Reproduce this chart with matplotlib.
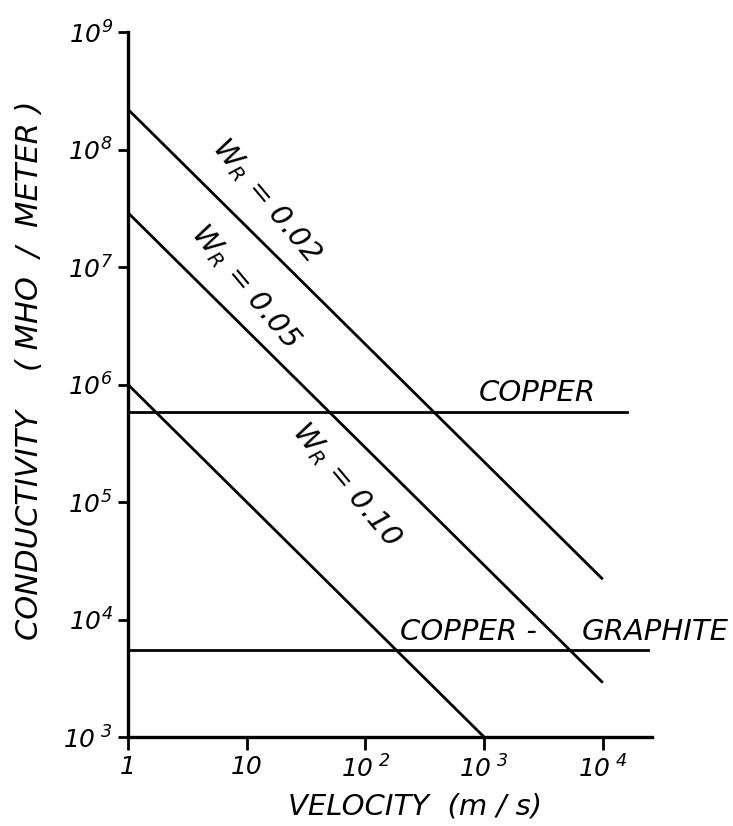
import numpy as np
import matplotlib.pyplot as plt
from matplotlib import rcParams

rcParams["font.family"]="DejaVu Sans"
rcParams["font.style"]="oblique"
rcParams["mathtext.default"]="it"
rcParams["axes.spines.top"]=False
rcParams["axes.spines.right"]=False

# data (velocity m/s, conductivity mho/m)
wr_labels=["0.02","0.05","0.10"]
wr_x0=[1,1,1]; wr_x1=[1e4,1e4,1e3]
wr_y0=[2.2e8,2.9e7,1.0e6]            # conductivity at v=1, slope -1
mat_sigma=[5.8e5,5.5e3]
mat_xend=[1.6e4,2.4e4]
xticks=[1,10,1e2,1e3,1e4]
xticklabels=["1","10",r"$10^{\ 2}$",r"$10^{\ 3}$",r"$10^{\ 4}$"]
yticks=[1e3,1e4,1e5,1e6,1e7,1e8,1e9]
yticklabels=[r"$10^{\ %d}$"%k if k==3 else r"$10^{%d}$"%k for k in range(3,10)]

fig=plt.figure(figsize=(7.33,8.26),dpi=100)
ax=fig.add_axes([0.1746,0.1077,0.715,0.8535])
ax.set_xscale("log"); ax.set_yscale("log")
ax.set_xlim(1,2.6e4); ax.set_ylim(1e3,1e9)

for y0,x0,x1 in zip(wr_y0,wr_x0,wr_x1):
    xs=np.array([x0,x1])
    ax.plot(xs,y0/xs,color="black",lw=2.0,solid_capstyle="butt")
for s,xe in zip(mat_sigma,mat_xend):
    ax.plot([1,xe],[s,s],color="black",lw=2.0)

# line labels
fs=21
for lab,(x,y) in zip(wr_labels,[(14.5,3.7e7),(9.8,6.8e6),(69,1.4e5)]):
    ax.text(x,y,r"$W_R$ = "+lab,rotation=-50,rotation_mode="anchor",
            ha="center",va="center",fontsize=fs)
ax.text(2800,8.5e5,"COPPER",ha="center",va="center",fontsize=fs)
ax.text(745,7.8e3,"COPPER -",ha="center",va="center",fontsize=fs)
ax.text(2.76e4,7.8e3,"GRAPHITE",ha="center",va="center",fontsize=fs)

ax.set_xticks(xticks); ax.set_xticklabels(xticklabels,fontsize=18)
ax.set_yticks(yticks); ax.set_yticklabels(yticklabels,fontsize=18)
ax.minorticks_off()
ax.tick_params(axis="x",length=9,width=2,pad=4)
ax.tick_params(axis="y",length=7,width=2,pad=4)
for sp in ["left","bottom"]:
    ax.spines[sp].set_linewidth(2.4)
fig.text(415/733,1-806/826,"VELOCITY  (m / s)",fontsize=21,ha="center",va="center")
fig.text(30/733,1-370/826,"CONDUCTIVITY    ( MHO  /  METER )",fontsize=22,
         rotation=90,ha="center",va="center")
fig.savefig("out.png",dpi=100,facecolor="white")
